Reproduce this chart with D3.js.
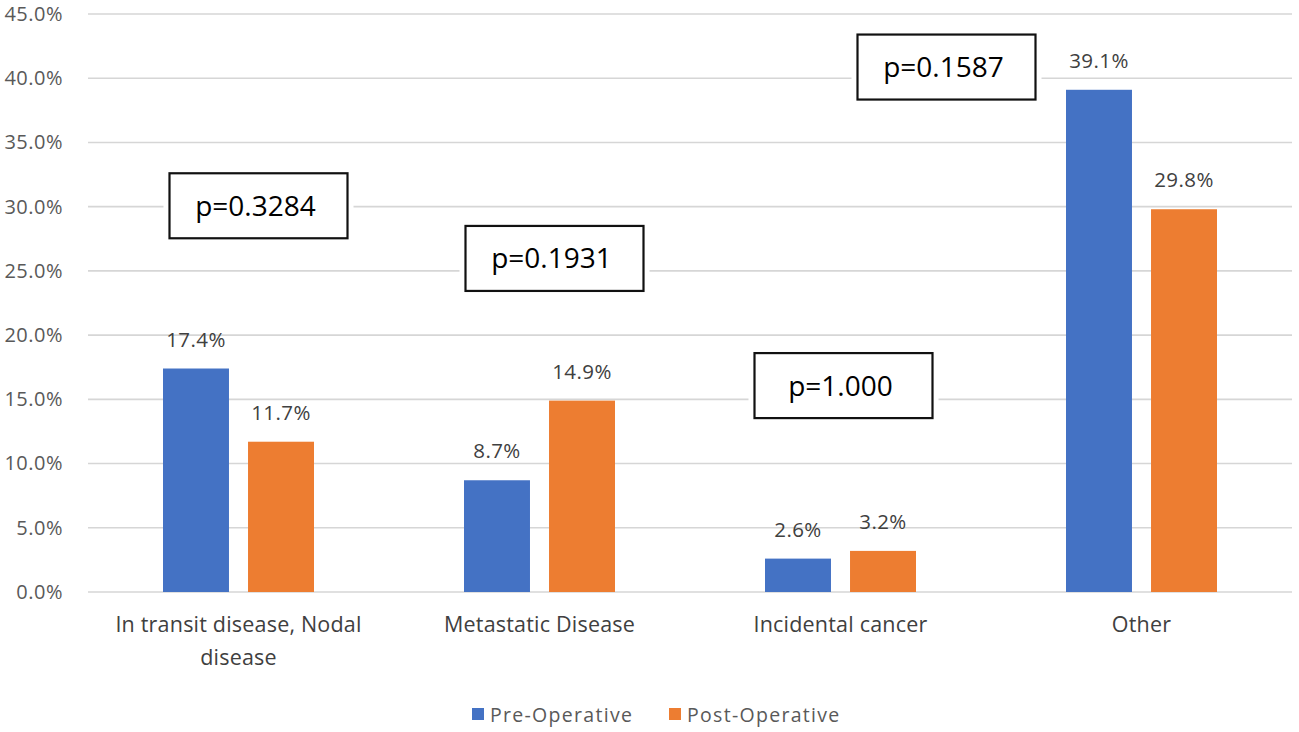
<!DOCTYPE html>
<html>
<head>
<meta charset="utf-8">
<script src="https://cdn.jsdelivr.net/npm/d3@7/dist/d3.min.js"></script>
<style>
  html, body { margin: 0; padding: 0; background: #fff; }
  svg { display: block; font-family: "Open Sans", "Noto Sans", sans-serif; }
</style>
</head>
<body>
<svg id="chart" width="1299" height="732"></svg>
<script>
// ---- data ----
const categories = [["In transit disease, Nodal", "disease"], ["Metastatic Disease"], ["Incidental cancer"], ["Other"]];
const seriesNames = ["Pre-Operative", "Post-Operative"];
const preOperative = [17.4, 8.7, 2.6, 39.1];
const postOperative = [11.7, 14.9, 3.2, 29.8];
const pValueLabels = ["p=0.3284", "p=0.1931", "p=1.000", "p=0.1587"];
const yTicks = [0, 5, 10, 15, 20, 25, 30, 35, 40, 45];

// ---- layout ----
const svg = d3.select("#chart");
const plot = { left: 88, right: 1292, top: 14, bottom: 592 };
const colors = ["#4472C4", "#ED7D31"];
const catKeys = categories.map((c, i) => i);

const x0 = d3.scaleBand().domain(catKeys).range([plot.left, plot.right]).padding(0);
const groupW = 151;
const x1 = d3.scaleBand().domain(seriesNames).range([0, groupW]).paddingInner(0.224).paddingOuter(0);
const y = d3.scaleLinear().domain([0, 45]).range([plot.bottom, plot.top]);

// gridlines
svg.append("g").selectAll("line").data(yTicks).join("line")
  .attr("x1", plot.left).attr("x2", plot.right)
  .attr("y1", d => y(d)).attr("y2", d => y(d))
  .attr("stroke", "#d6d6d6").attr("stroke-width", 1.6);

// y axis labels
const yAxis = d3.axisLeft(y).tickValues(yTicks).tickSize(0).tickPadding(0)
  .tickFormat(d => d3.format(".1f")(d) + "%");
const ya = svg.append("g").attr("transform", "translate(63,0)").call(yAxis);
ya.select(".domain").remove();
ya.selectAll("text")
  .attr("font-family", "'Open Sans', sans-serif")
  .attr("font-size", 20).attr("fill", "#595959")
  .attr("letter-spacing", 0.5)
  .attr("dy", "0.32em");

// data table
const table = catKeys.map(i => ({ cat: i, values: [preOperative[i], postOperative[i]] }));

// bars
const groups = svg.append("g").selectAll("g").data(table).join("g")
  .attr("transform", d => `translate(${x0(d.cat) + x0.bandwidth() / 2 - groupW / 2},0)`);

groups.selectAll("rect").data(d => d.values.map((v, j) => ({ v, s: seriesNames[j], j }))).join("rect")
  .attr("x", d => x1(d.s))
  .attr("width", x1.bandwidth())
  .attr("y", d => y(d.v))
  .attr("height", d => y(0) - y(d.v))
  .attr("fill", d => colors[d.j]);

// value labels
groups.selectAll("text.val").data(d => d.values.map((v, j) => ({ v, s: seriesNames[j], j }))).join("text")
  .attr("class", "val")
  .attr("x", d => x1(d.s) + x1.bandwidth() / 2)
  .attr("y", d => y(d.v) - 22)
  .attr("text-anchor", "middle")
  .attr("font-size", 20.5).attr("fill", "#404040")
  .attr("letter-spacing", 0.4)
  .text(d => d3.format(".1f")(d.v) + "%");

// category labels
const catLabels = svg.append("g").selectAll("text").data(categories.map((c, i) => ({ c, i }))).join("text")
  .attr("x", d => x0(d.i) + x0.bandwidth() / 2)
  .attr("y", 632)
  .attr("text-anchor", "middle")
  .attr("font-size", 21.5).attr("fill", "#404040")
  .attr("letter-spacing", 0.2);
catLabels.selectAll("tspan").data(d => d.c.map((line, k) => ({ line, k, x: x0(d.i) + x0.bandwidth() / 2 }))).join("tspan")
  .attr("x", d => d.x)
  .attr("dy", d => d.k === 0 ? 0 : 33)
  .text(d => d.line);

// p-value annotation boxes (anchored to category & value scale)
const pLayout = [
  { dx: 20, top: 32.6 },
  { dx: 15, top: 28.5 },
  { dx: 3, top: 18.6 },
  { dx: -195, top: 43.4 }
];
const boxW = 178, boxH = 65;
const pBoxes = svg.append("g").selectAll("g").data(pValueLabels.map((t, i) => ({ t, i }))).join("g")
  .attr("transform", d => `translate(${x0(d.i) + x0.bandwidth() / 2 + pLayout[d.i].dx - boxW / 2},${y(pLayout[d.i].top)})`);
pBoxes.append("rect")
  .attr("x", -6).attr("y", -6).attr("width", boxW + 12).attr("height", boxH + 12)
  .attr("fill", "#fff");
pBoxes.append("rect")
  .attr("x", 0).attr("y", 0).attr("width", boxW).attr("height", boxH)
  .attr("fill", "#fff").attr("stroke", "#111").attr("stroke-width", 2.2);
pBoxes.append("text")
  .attr("x", boxW / 2 - 3).attr("y", boxH / 2 + 10)
  .attr("text-anchor", "middle")
  .attr("font-size", 28).attr("font-weight", 500).attr("fill", "#000")
  .text(d => d.t);

// legend
const legendItems = [
  { name: seriesNames[0], color: colors[0], x: 472 },
  { name: seriesNames[1], color: colors[1], x: 669 }
];
const lg = svg.append("g").selectAll("g").data(legendItems).join("g")
  .attr("transform", d => `translate(${d.x},708)`);
lg.append("rect").attr("width", 12).attr("height", 12).attr("fill", d => d.color);
lg.append("text")
  .attr("x", 18).attr("y", 14)
  .attr("font-size", 19.5).attr("fill", "#595959")
  .attr("letter-spacing", 1.3)
  .text(d => d.name);
</script>
</body>
</html>
